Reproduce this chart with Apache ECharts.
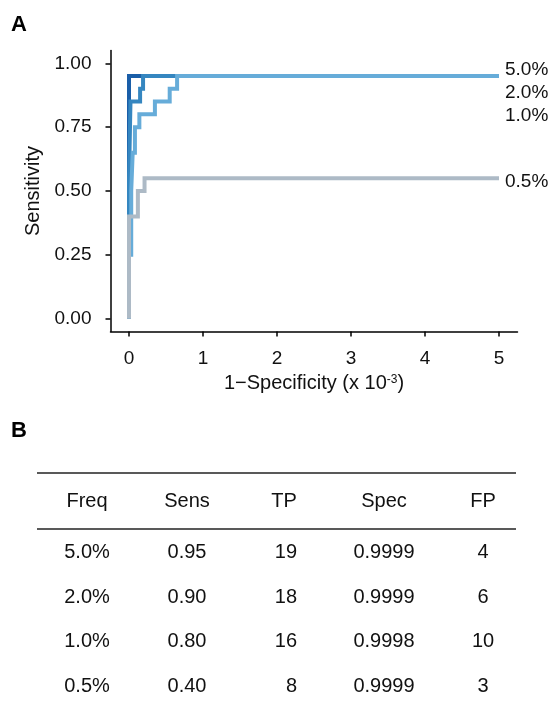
<!DOCTYPE html>
<html>
<head>
<meta charset="utf-8">
<script src="https://cdn.jsdelivr.net/npm/echarts@6/dist/echarts.min.js"></script>
<style>
  html, body { margin: 0; padding: 0; background: #fff; }
  #roc { width: 556px; height: 701px; }
</style>
</head>
<body>
<div id="roc"></div>
<script>
// ROC curves, one per frequency (x in units of 10^-3)
var freqNames = ['5.0%', '2.0%', '1.0%', '0.5%'];
var rocX5 = [0, 0, 5];
var rocY5 = [0, 0.95, 0.95];
var rocX2 = [0, 0, 0.02, 0.02, 0.15, 0.15, 0.19, 0.19, 5];
var rocY2 = [0, 0.55, 0.55, 0.85, 0.85, 0.90, 0.90, 0.95, 0.95];
var rocX1 = [0, 0, 0.03, 0.03, 0.05, 0.05, 0.08, 0.08, 0.14, 0.14, 0.35, 0.35, 0.55, 0.55, 0.65, 0.65, 5];
var rocY1 = [0, 0.25, 0.25, 0.50, 0.50, 0.65, 0.65, 0.75, 0.75, 0.80, 0.80, 0.85, 0.85, 0.90, 0.90, 0.95, 0.95];
var rocX05 = [0, 0, 0.12, 0.12, 0.21, 0.21, 5];
var rocY05 = [0, 0.40, 0.40, 0.50, 0.50, 0.55, 0.55];
var xTicks = [0, 1, 2, 3, 4, 5];
var yTicks = [0, 0.25, 0.5, 0.75, 1];

// table B
var tableHead = ['Freq', 'Sens', 'TP', 'Spec', 'FP'];
var tabFreq = ['5.0%', '2.0%', '1.0%', '0.5%'];
var tabSens = ['0.95', '0.90', '0.80', '0.40'];
var tabTP = [19, 18, 16, 8];
var tabSpec = ['0.9999', '0.9999', '0.9998', '0.9999'];
var tabFP = [4, 6, 10, 3];

var colors = ['#1a5ea8', '#3586c0', '#66acd9', '#adbac6'];
var labelDy = [-6, 17, 40, 4];
var font = '"Liberation Sans", Arial, Helvetica, sans-serif';

function pairs(xs, ys) {
    return xs.map(function (x, i) { return [x, ys[i]]; });
}
var curves = [pairs(rocX5, rocY5), pairs(rocX2, rocY2), pairs(rocX1, rocY1), pairs(rocX05, rocY05)];

var series = curves.map(function (d, i) {
    return {
        name: freqNames[i],
        type: 'line',
        data: d,
        showSymbol: false,
        symbol: 'none',
        animation: false,
        lineStyle: { color: colors[i], width: 4, join: 'miter', cap: 'butt' },
        endLabel: {
            show: true,
            formatter: '{a}',
            color: '#111',
            fontFamily: font,
            fontSize: 19,
            distance: 6,
            offset: [0, labelDy[i]]
        }
    };
});

// table graphics
var colX = [87, 187, 284, 384, 483];
var headY = 501;
var rowY = [552, 597, 641, 686];
var g = [];
g.push({ type: 'text', left: 11, top: 14, style: { text: 'A', font: 'bold 22px ' + font, fill: '#000' } });
g.push({ type: 'text', left: 11, top: 420, style: { text: 'B', font: 'bold 22px ' + font, fill: '#000' } });
g.push({ type: 'line', shape: { x1: 37, y1: 473, x2: 516, y2: 473 }, style: { stroke: '#222', lineWidth: 1.5 } });
g.push({ type: 'line', shape: { x1: 37, y1: 529, x2: 516, y2: 529 }, style: { stroke: '#222', lineWidth: 1.5 } });
function cell(txt, x, y, align) {
    g.push({
        type: 'text', x: x, y: y,
        style: { text: String(txt), font: '20px ' + font, fill: '#111', textAlign: align || 'center', textVerticalAlign: 'middle' }
    });
}
tableHead.forEach(function (h, j) { cell(h, colX[j], headY); });
rowY.forEach(function (y, i) {
    cell(tabFreq[i], colX[0], y);
    cell(tabSens[i], colX[1], y);
    cell(tabTP[i], 297, y, 'right');
    cell(tabSpec[i], colX[3], y);
    cell(tabFP[i], colX[4], y);
});

var myChart = echarts.init(document.getElementById('roc'));
var option = {
    backgroundColor: '#fff',
    animation: false,
    grid: { left: 110.5, top: 50.5, width: 407, height: 281, containLabel: false },
    xAxis: {
        type: 'value',
        min: -0.25,
        max: 5.25,
        name: '1\u2212Specificity (x 10{sup|-3})',
        nameLocation: 'middle',
        nameGap: 42,
        nameTextStyle: {
            color: '#111', fontFamily: font, fontSize: 20,
            rich: { sup: { fontSize: 12, verticalAlign: 'top', lineHeight: 12, padding: [0, 0, 8, 0], color: '#111', fontFamily: font } }
        },
        axisLine: { show: true, onZero: false, lineStyle: { color: '#000', width: 1.5 } },
        axisTick: { show: true, length: 5, customValues: xTicks, lineStyle: { color: '#000', width: 1.5 } },
        axisLabel: { customValues: xTicks, color: '#111', fontFamily: font, fontSize: 19, margin: 18 },
        splitLine: { show: false }
    },
    yAxis: {
        type: 'value',
        min: -0.05,
        max: 1.05,
        name: 'Sensitivity',
        nameLocation: 'middle',
        nameGap: 66,
        nameRotate: 90,
        nameTextStyle: { color: '#111', fontFamily: font, fontSize: 20 },
        axisLine: { show: true, onZero: false, lineStyle: { color: '#000', width: 1.5 } },
        axisTick: { show: true, length: 5, customValues: yTicks, lineStyle: { color: '#000', width: 1.5 } },
        axisLabel: {
            customValues: yTicks, color: '#111', fontFamily: font, fontSize: 19, margin: 19,
            formatter: function (v) { return v.toFixed(2); }
        },
        splitLine: { show: false }
    },
    series: series,
    graphic: g
};
myChart.setOption(option);
</script>
</body>
</html>
